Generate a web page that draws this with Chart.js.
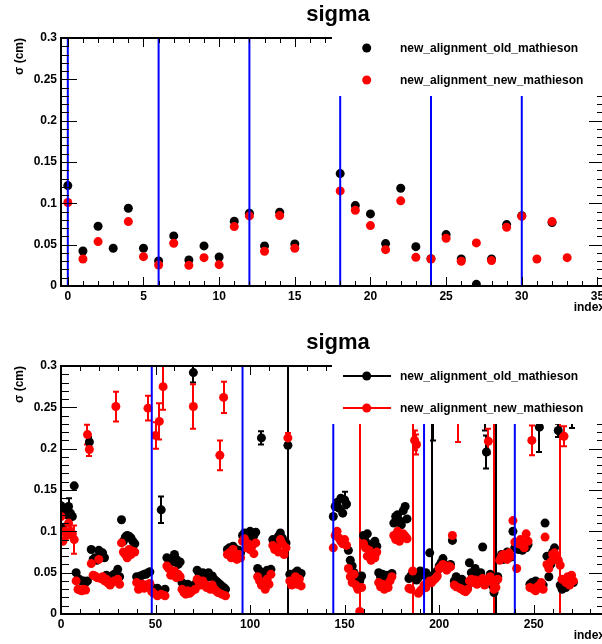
<!DOCTYPE html>
<html><head><meta charset="utf-8">
<script src="https://cdn.jsdelivr.net/npm/chart.js@4/dist/chart.umd.min.js"></script>
<style>
html,body{margin:0;padding:0;background:#fff;overflow:hidden;width:602px;height:644px}
.pad{position:absolute;left:0;width:610px;height:322px}
#p1{top:0}#p2{top:328px}
</style></head><body>
<div class="pad" id="p1"><canvas id="c1" width="610" height="322"></canvas></div>
<div class="pad" id="p2"><canvas id="c2" width="610" height="322"></canvas></div>
<script>
const FONT = '"Liberation Sans", Arial, Helvetica, sans-serif';
const TITLE_TEXT = 'sigma';
const SERIES_NAMES = ['new_alignment_old_mathieson', 'new_alignment_new_mathieson'];
const Y_TITLE = 'σ (cm)';
const X_TITLE = 'index';
const Y_TICKS = [0, 0.05, 0.1, 0.15, 0.2, 0.25, 0.3];
const Y_TICK_LABELS = ['0', '0.05', '0.1', '0.15', '0.2', '0.25', '0.3'];
const TOP_X_TICKS = [0, 5, 10, 15, 20, 25, 30, 35];
const BOT_X_TICKS = [0, 50, 100, 150, 200, 250];
const TOP_SECTOR_LINES = [0, 6, 12, 18, 24, 30];
const BOT_SECTOR_LINES = [0, 48, 96, 144, 192, 240];

// top panel: one value per index 0..33
const TOP_OLD = [0.1215, 0.0424, 0.0723, 0.0456, 0.094, 0.0456, 0.0303, 0.0606, 0.0315, 0.0485,
  0.0351, 0.0783, 0.088, 0.0485, 0.0892, 0.0509, null, null, 0.136, 0.0973,
  0.0872, 0.0513, 0.1183, 0.0476, 0.033, 0.0622, 0.0327, 0.002, 0.0327, 0.0743,
  0.085, null, 0.0767, null];
const TOP_NEW = [0.101, 0.0327, 0.0537, null, 0.0779, 0.0355, 0.0254, 0.0517, 0.025, 0.0343,
  0.0258, 0.0719, 0.0848, 0.042, 0.0852, 0.0456, null, null, 0.115, 0.0917,
  0.0731, 0.044, 0.103, 0.0347, 0.0327, 0.0577, 0.0299, 0.0521, 0.0307, 0.0711,
  0.0844, 0.0327, 0.0779, 0.0343];

// bottom panel: one value per index 0..271
const BOT_OLD = [
  0.131, 0.105, 0.127, 0.120, 0.130, 0.122, 0.118, 0.155,
  0.050, 0.043, 0.041, 0.040, 0.040, 0.038, 0.040, 0.208,
  0.078, 0.066, 0.068, 0.065, 0.077, 0.070, 0.074, 0.068,
  0.047, 0.045, 0.044, 0.046, 0.048, 0.044, 0.054, 0.045,
  0.114, 0.088, 0.093, 0.095, 0.094, 0.092, 0.088, 0.085,
  0.045, 0.043, 0.046, 0.047, 0.048, 0.048, 0.050, 0.051,
  0.032, 0.030, 0.029, 0.031, 0.028, 0.126, 0.027, 0.030,
  0.068, 0.065, 0.062, 0.066, 0.072, 0.066, 0.060, 0.063,
  0.038, 0.035, 0.033, 0.036, 0.032, 0.034, 0.292, 0.036,
  0.053, 0.049, 0.045, 0.050, 0.047, 0.044, 0.050, 0.046,
  0.046, 0.042, 0.040, 0.038, 0.036, 0.034, 0.032, 0.030,
  0.078, 0.080, 0.076, 0.082, 0.079, 0.075, 0.077, 0.074,
  0.095, 0.098, 0.093, 0.097, 0.100, 0.092, 0.095, 0.099,
  0.055, 0.052, 0.213, 0.050, 0.048, 0.053, 0.051, 0.054,
  0.090, 0.085, 0.087, 0.094, 0.098, 0.092, 0.088, 0.086,
  0.204, 0.048, 0.044, 0.046, 0.050, 0.052, 0.045, 0.049,
  null, null, null, null, null, null, null, null,
  null, null, null, null, null, null, null, null,
  0.118, 0.130, 0.135, 0.128, 0.140, 0.122, 0.138, 0.133,
  0.077, 0.065, 0.058, 0.050, 0.045, 0.042, 0.040, 0.046,
  0.095, 0.088, 0.097, 0.083, 0.080, 0.085, 0.088, 0.082,
  0.050, 0.045, 0.048, 0.042, 0.047, 0.044, 0.046, 0.049,
  0.110, 0.118, 0.120, 0.113, 0.108, 0.125, 0.130, 0.115,
  0.043, 0.046, 0.050, 0.045, 0.041, 0.044, 0.052, 0.048,
  0.048, 0.050, 0.045, 0.074, 0.046, 0.330, 0.050, 0.052,
  0.058, 0.062, 0.067, 0.060, 0.055, 0.058, 0.060, 0.089,
  0.040, 0.045, 0.038, 0.035, 0.042, 0.036, 0.033, 0.031,
  0.062, 0.050, 0.045, 0.055, 0.048, 0.044, 0.050, 0.081,
  0.340, 0.196, 0.040, 0.048, 0.035, 0.026, 0.040, 0.045,
  0.068, 0.072, 0.066, 0.070, 0.075, 0.071, 0.069, 0.100,
  0.080, 0.083, 0.078, 0.085, 0.077, 0.082, 0.080, 0.084,
  0.036, 0.038, 0.034, 0.040, 0.036, 0.226, 0.037, 0.035,
  0.110, 0.070, 0.045, 0.060, 0.075, 0.080, 0.066, 0.222,
  0.035, 0.030, 0.038, 0.032, 0.040, 0.036, 0.330, 0.038];
const BOT_NEW = [
  0.118, 0.088, 0.100, 0.095, 0.110, 0.100, 0.097, 0.090,
  0.040, 0.030, 0.029, 0.028, 0.030, 0.029, 0.217, 0.199,
  0.061, 0.047, 0.046, 0.044, 0.066, 0.043, 0.045, 0.040,
  0.042, 0.037, 0.035, 0.038, 0.040, 0.251, 0.042, 0.036,
  0.086, 0.075, 0.072, 0.068, 0.078, 0.072, 0.076, 0.075,
  0.038, 0.030, 0.032, 0.036, 0.031, 0.035, 0.249, 0.037,
  0.027, 0.025, 0.216, 0.022, 0.233, 0.024, 0.275, 0.022,
  0.058, 0.055, 0.047, 0.050, 0.052, 0.044, 0.048, 0.045,
  0.030, 0.026, 0.024, 0.028, 0.025, 0.027, 0.251, 0.030,
  0.042, 0.038, 0.035, 0.040, 0.036, 0.032, 0.034, 0.030,
  0.035, 0.030, 0.028, 0.026, 0.192, 0.024, 0.262, 0.022,
  0.072, 0.074, 0.068, 0.078, 0.070, 0.066, 0.072, 0.068,
  0.088, 0.091, 0.080, 0.085, 0.078, 0.082, 0.073, 0.086,
  0.045, 0.040, 0.035, 0.038, 0.030, 0.042, 0.036, 0.048,
  0.083, 0.078, 0.080, 0.075, 0.090, 0.085, 0.072, 0.080,
  0.213, 0.040, 0.035, 0.038, 0.045, 0.036, 0.042, 0.034,
  null, null, null, null, null, null, null, null,
  null, null, null, null, null, null, null, null,
  0.080, 0.095, 0.100, 0.092, 0.088, 0.085, 0.090, 0.083,
  0.055, 0.045, 0.038, 0.048, 0.035, 0.030, 0.003, 0.032,
  0.085, 0.080, 0.070, 0.077, 0.065, 0.072, 0.068, 0.075,
  0.038, 0.033, 0.036, 0.030, 0.035, 0.032, 0.040, 0.045,
  0.095, 0.090, 0.100, 0.088, 0.092, 0.097, 0.094, 0.091,
  0.031, 0.030, 0.052, 0.210, 0.205, 0.025, 0.028, 0.030,
  0.035, 0.032, 0.037, 0.040, 0.038, 0.041, 0.043, 0.046,
  0.055, 0.057, 0.060, 0.056, 0.053, 0.058, 0.057, 0.095,
  0.035, 0.033, 0.330, 0.031, 0.030, 0.028, 0.027, 0.030,
  0.040, 0.042, 0.038, 0.041, 0.036, 0.040, 0.038, 0.043,
  0.035, 0.040, 0.209, 0.045, 0.038, 0.030, 0.032, 0.042,
  0.065, 0.070, 0.072, 0.068, 0.066, 0.074, 0.070, 0.113,
  0.087, 0.055, 0.085, 0.090, 0.083, 0.080, 0.097, 0.088,
  0.032, 0.210, 0.030, 0.028, 0.033, 0.035, 0.038, 0.030,
  0.093, 0.060, 0.055, 0.063, 0.072, 0.074, 0.068, 0.065,
  0.059, 0.042, 0.215, 0.038, 0.045, 0.035, 0.047, 0.040];

// error bars (cm): typical error, plus the larger ones [index, error]
const ERR_TYPICAL = 0.004;
const BOT_OLD_ERR_LARGE = [[4, 0.01], [15, 0.006], [53, 0.016], [70, 0.012], [106, 0.008], [120, 1], [150, 0.01],
  [196, 1], [197, 0.12], [224, 0.118], [225, 0.02], [230, 1], [253, 0.03], [263, 0.008], [270, 0.105]];
const BOT_NEW_ERR_LARGE = [[7, 0.017], [14, 0.012], [15, 0.008], [29, 0.018], [46, 0.015], [50, 0.016], [52, 0.022],
  [54, 0.028], [70, 0.027], [84, 0.018], [86, 0.019], [120, 0.006], [158, 1], [186, 1], [187, 0.012], [188, 0.012],
  [210, 0.122], [226, 0.015], [229, 1], [249, 0.018], [264, 1], [266, 0.012]];

function errArray(vals, large) {
  const e = vals.map(() => ERR_TYPICAL);
  large.forEach(([i, v]) => { e[i] = v; });
  return e;
}
function toPts(vals) {
  const pts = [];
  vals.forEach((v, i) => { if (v !== null) pts.push({ x: i, y: v }); });
  return pts;
}

function rootPlugin(o) {
  return {
    id: 'rootdeco',
    beforeDatasetsDraw(chart) {
      if (!o.errors) return;
      const { ctx, chartArea: a, scales: { x, y } } = chart;
      ctx.save();
      ctx.beginPath(); ctx.rect(a.left, a.top, a.right - a.left, a.bottom - a.top); ctx.clip();
      ctx.lineWidth = 2;
      o.errors.forEach(s => {
        ctx.strokeStyle = s.color;
        s.vals.forEach((v, i) => {
          if (v === null) return;
          const e = s.errs[i];
          const px = Math.round(x.getPixelForValue(i));
          const y1 = y.getPixelForValue(v - e), y2 = y.getPixelForValue(v + e);
          if (Math.abs(y1 - y2) < 9) return;
          ctx.beginPath();
          ctx.moveTo(px, y1); ctx.lineTo(px, y2);
          ctx.moveTo(px - 3, y1); ctx.lineTo(px + 3, y1);
          ctx.moveTo(px - 3, y2); ctx.lineTo(px + 3, y2);
          ctx.stroke();
        });
      });
      ctx.restore();
    },
    afterDatasetsDraw(chart) {
      const { ctx, chartArea: a, scales: { x, y } } = chart;
      ctx.save();
      // frame
      ctx.strokeStyle = '#000'; ctx.lineWidth = 2;
      ctx.strokeRect(a.left, a.top, a.right - a.left, a.bottom - a.top);
      // ticks on all four sides, pointing inward
      ctx.lineWidth = 1;
      ctx.beginPath();
      for (let v = o.xMinorFrom; v <= o.xMax; v += o.xMinor) {
        const px = Math.round(x.getPixelForValue(v)) + 0.5;
        if (px < a.left || px > a.right) continue;
        const major = o.xTicks.some(t => Math.abs(t - v) < 1e-9);
        const len = major ? 9 : 5;
        ctx.moveTo(px, a.bottom); ctx.lineTo(px, a.bottom - len);
        ctx.moveTo(px, a.top); ctx.lineTo(px, a.top + len);
      }
      for (let k = 0; k <= 30; k++) {
        const v = k * 0.01;
        const py = Math.round(y.getPixelForValue(v)) + 0.5;
        const len = (k % 5 === 0) ? 16 : 8;
        ctx.moveTo(a.left, py); ctx.lineTo(a.left + len, py);
        ctx.moveTo(a.right, py); ctx.lineTo(a.right - len, py);
      }
      ctx.stroke();
      // legend box
      ctx.fillStyle = '#fff';
      ctx.fillRect(332, 28, 290, 68);
      const rows = [{ c: '#000', t: SERIES_NAMES[0], y: 48 }, { c: '#ff0000', t: SERIES_NAMES[1], y: 80 }];
      rows.forEach(r => {
        if (o.legendLines) {
          ctx.strokeStyle = r.c; ctx.lineWidth = 2;
          ctx.beginPath(); ctx.moveTo(343, r.y); ctx.lineTo(391, r.y); ctx.stroke();
        }
        ctx.fillStyle = r.c;
        ctx.beginPath(); ctx.arc(366.7, r.y, 4.5, 0, Math.PI * 2); ctx.fill();
        ctx.fillStyle = '#000';
        ctx.font = 'bold 12px ' + FONT;
        ctx.textAlign = 'left'; ctx.textBaseline = 'alphabetic';
        ctx.fillText(r.t, 400, r.y + 3.5);
      });
      // title
      ctx.font = 'bold 22px ' + FONT;
      ctx.textAlign = 'center'; ctx.textBaseline = 'alphabetic';
      ctx.fillStyle = '#000';
      ctx.fillText(TITLE_TEXT, 338, 20.5);
      ctx.restore();
    }
  };
}

function makeChart(id, o) {
  const datasets = [];
  o.lines.forEach(v => datasets.push({
    label: 'sector ' + v, data: [{ x: v, y: 0 }, { x: v, y: 0.3 }], showLine: true,
    borderColor: '#0000ff', borderWidth: 2, pointRadius: 0, pointHoverRadius: 0, fill: false
  }));
  datasets.push({ label: SERIES_NAMES[1], data: toPts(o.newVals), backgroundColor: '#ff0000', borderWidth: 0, pointRadius: 4.5 });
  datasets.push({ label: SERIES_NAMES[0], data: toPts(o.oldVals), backgroundColor: '#000000', borderWidth: 0, pointRadius: 4.5 });
  const tickFont = { family: FONT, size: 12, weight: 'bold' };
  return new Chart(document.getElementById(id), {
    type: 'scatter',
    data: { datasets },
    options: {
      responsive: false, animation: false, devicePixelRatio: 1,
      layout: { padding: { left: 0, right: 5, top: 38, bottom: 0 } },
      plugins: { legend: { display: false }, title: { display: false }, tooltip: { enabled: false } },
      scales: {
        x: {
          type: 'linear', min: o.xMin, max: o.xMax,
          grid: { display: false, drawTicks: false }, border: { display: false },
          afterBuildTicks: s => { s.ticks = o.xTicks.map(v => ({ value: v })); },
          afterFit: s => { s.height = 36; },
          ticks: { color: '#000', font: tickFont, padding: 3, maxRotation: 0, autoSkip: false, callback: v => String(v) },
          title: { display: true, text: X_TITLE, align: 'end', color: '#000', font: tickFont, padding: { top: 0, bottom: 7 } }
        },
        y: {
          type: 'linear', min: 0, max: 0.3,
          grid: { display: false, drawTicks: false }, border: { display: false },
          afterBuildTicks: s => { s.ticks = Y_TICKS.map(v => ({ value: v })); },
          afterFit: s => { s.width = 61; },
          ticks: { color: '#000', font: tickFont, padding: 4, callback: v => Y_TICK_LABELS[Y_TICKS.findIndex(t => Math.abs(t - v) < 1e-9)] },
          title: { display: true, text: Y_TITLE, align: 'end', color: '#000', font: tickFont, padding: { top: 12, bottom: 0 } }
        }
      }
    },
    plugins: [rootPlugin(o)]
  });
}

makeChart('c1', {
  oldVals: TOP_OLD, newVals: TOP_NEW, lines: TOP_SECTOR_LINES,
  xMin: -0.45, xMax: 35.5, xTicks: TOP_X_TICKS, xMinor: 1, xMinorFrom: 0, legendLines: false
});
makeChart('c2', {
  oldVals: BOT_OLD, newVals: BOT_NEW, lines: BOT_SECTOR_LINES,
  xMin: 0, xMax: 287.7, xTicks: BOT_X_TICKS, xMinor: 10, xMinorFrom: 0, legendLines: true,
  errors: [
    { vals: BOT_OLD, errs: errArray(BOT_OLD, BOT_OLD_ERR_LARGE), color: '#000' },
    { vals: BOT_NEW, errs: errArray(BOT_NEW, BOT_NEW_ERR_LARGE), color: '#ff0000' }
  ]
});
</script>
</body></html>
